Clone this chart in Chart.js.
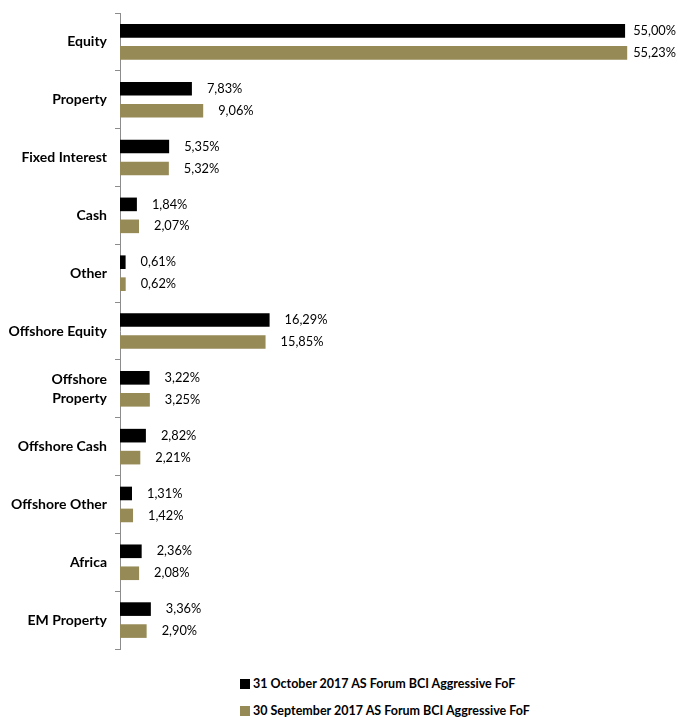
<!DOCTYPE html>
<html>
<head>
<meta charset="utf-8">
<script src="https://cdn.jsdelivr.net/npm/chart.js@4/dist/chart.umd.min.js"></script>
<style>
    body { margin: 0; background: #fff; font-family: Lato, sans-serif; }
    #wrap { position: relative; width: 678px; height: 660px; }
    .legend { position: absolute; left: 240px; font: bold 12.5px Lato, sans-serif; color: #000; }
    .legend span.box { display: inline-block; width: 10px; height: 10px; margin-right: 3px; vertical-align: -1px; }
</style>
</head>
<body>
<div id="wrap"><canvas id="chart" width="678" height="660"></canvas></div>
<div class="legend" id="leg0" style="top:676px"></div>
<div class="legend" id="leg1" style="top:703px"></div>
<script>
// ===== DATA =====
const categories = ['Equity', 'Property', 'Fixed Interest', 'Cash', 'Other', 'Offshore Equity',
    ['Offshore', 'Property'], 'Offshore Cash', 'Offshore Other', 'Africa', 'EM Property'];
const october = [55.00, 7.83, 5.35, 1.84, 0.61, 16.29, 3.22, 2.82, 1.31, 2.36, 3.36];
const september = [55.23, 9.06, 5.32, 2.07, 0.62, 15.85, 3.25, 2.21, 1.42, 2.08, 2.90];
const seriesNames = ['31 October 2017 AS Forum BCI Aggressive FoF', '30 September 2017 AS Forum BCI Aggressive FoF'];
const seriesColors = ['#000000', '#968A56'];

// ===== VALUE LABELS =====
const valueLabels = {
    id: 'valueLabels',
    afterDatasetsDraw(chart) {
        const ctx = chart.ctx;
        ctx.save();
        ctx.font = '12.8px Lato, sans-serif';
        ctx.fillStyle = '#000';
        ctx.textBaseline = 'middle';
        chart.data.datasets.forEach((ds, i) => {
            chart.getDatasetMeta(i).data.forEach((bar, j) => {
                const txt = ds.data[j].toFixed(2).replace('.', ',') + '%';
                const w = ctx.measureText(txt).width;
                const x = Math.min(bar.x + 15, chart.width - w - 2);
                ctx.fillText(txt, x, bar.y);
            });
        });
        ctx.restore();
    }
};

new Chart(document.getElementById('chart'), {
    type: 'bar',
    data: {
        labels: categories,
        datasets: [
            { label: seriesNames[0], data: october, backgroundColor: seriesColors[0] },
            { label: seriesNames[1], data: september, backgroundColor: seriesColors[1] }
        ]
    },
    options: {
        indexAxis: 'y',
        responsive: false,
        animation: false,
        categoryPercentage: 0.76,
        barPercentage: 0.62,
        layout: { padding: { top: 13, bottom: 11, right: 7, left: 0 } },
        plugins: { legend: { display: false }, tooltip: { enabled: false } },
        scales: {
            x: { display: false, min: 0, max: 60 },
            y: {
                afterFit(scale) {
                    scale.width = 120;
                    scale.paddingTop = 0;
                    scale.paddingBottom = 0;
                },
                grid: { drawOnChartArea: false, tickLength: 5, color: '#8c8c8c', offset: true },
                border: { color: '#8c8c8c' },
                ticks: { color: '#000', padding: 8, font: { family: 'Lato', size: 14, weight: 'bold', lineHeight: 1.4 } }
            }
        }
    },
    plugins: [valueLabels]
});

// ===== LEGEND =====
seriesNames.forEach((name, i) => {
    document.getElementById('leg' + i).innerHTML =
        '<span class="box" style="background:' + seriesColors[i] + '"></span>' + name;
});
</script>
</body>
</html>
